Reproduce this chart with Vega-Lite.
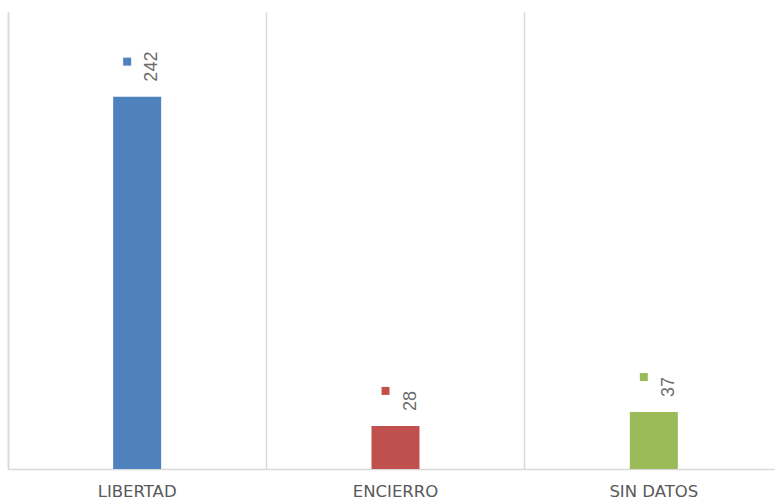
{
  "$schema": "https://vega.github.io/schema/vega-lite/v6.json",
  "width": 767,
  "height": 457,
  "autosize": "none",
  "padding": {"left": 8, "top": 12, "right": 0, "bottom": 32},
  "background": "white",
  "config": {"view": {"stroke": null}},
  "data": {"values": [
    {"categoria": "LIBERTAD", "valor": 242},
    {"categoria": "ENCIERRO", "valor": 28},
    {"categoria": "SIN DATOS", "valor": 37}
  ]},
  "encoding": {
    "x": {"field": "categoria", "type": "nominal", "sort": null,
      "scale": {"paddingInner": 0, "paddingOuter": 0, "range": [0, 775]},
      "axis": {"title": null, "labelAngle": 0, "labelFontSize": 16.5, "labelFont": "DejaVu Sans",
        "labelColor": "#595959", "labelBaseline": "alphabetic", "labelPadding": 27, "ticks": false, "grid": true, "bandPosition": 0,
        "gridColor": "#D9D9D9", "gridWidth": 1.5, "domainColor": "#D9D9D9", "domainWidth": 1.5}},
    "y": {"field": "valor", "type": "quantitative",
      "scale": {"domain": [0, 297], "nice": false},
      "axis": {"title": null, "labels": false, "ticks": false, "grid": false,
        "domainColor": "#D9D9D9", "domainWidth": 1.5}},
    "color": {"field": "categoria", "type": "nominal", "sort": null,
      "scale": {"domain": ["LIBERTAD", "ENCIERRO", "SIN DATOS"], "range": ["#4F81BD", "#C0504D", "#9BBB59"]},
      "legend": null}
  },
  "layer": [
    {"mark": {"type": "bar", "size": 48}},
    {"mark": {"type": "text", "angle": 270, "align": "left", "baseline": "middle", "dx": 15, "dy": 15,
      "fontSize": 18, "font": "Liberation Sans"},
     "encoding": {"text": {"field": "valor", "type": "quantitative"}, "color": {"value": "#6b6b6b"}}},
    {"mark": {"type": "point", "shape": "square", "filled": true, "size": 64, "opacity": 1, "xOffset": -10, "yOffset": -35}}
  ]
}
